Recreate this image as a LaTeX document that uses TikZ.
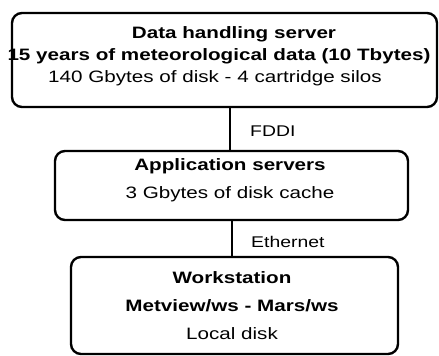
\documentclass[tikz,border=0pt]{standalone}
\usepackage{fontspec}
\setmainfont{Liberation Sans}[FakeStretch=1.25]
\begin{document}
\begin{tikzpicture}[x=1pt,y=-1pt,
  box/.style={draw, line width=2.4pt, rounded corners=10pt},
  link/.style={line width=2.8pt},
  tb/.style={font=\fontsize{16.5}{19}\selectfont\bfseries, inner sep=0pt, anchor=base},
  tn/.style={font=\fontsize{16.5}{19}\selectfont, inner sep=0pt, anchor=base},
  lbl/.style={font=\fontsize{15.5}{18}\selectfont, inner sep=0pt, anchor=base west}]
\useasboundingbox (0,0) rectangle (439,356);
% storage tier
\draw[box] (12,13) rectangle (437,107);
\node[tb] (dhs) at (234,38) {Data handling server};
\node[tb] (hist) at (219,60) {15 years of meteorological data (10 Tbytes)};
\node[tn] (disk) at (215,82) {140 Gbytes of disk - 4 cartridge silos};
% application tier
\draw[box] (55,151) rectangle (408,220);
\node[tb] (apps) at (230,170) {Application servers};
\node[tn] (cache) at (230,198) {3 Gbytes of disk cache};
% workstation tier
\draw[box] (71,257) rectangle (398,354);
\node[tb] (ws) at (232,283) {Workstation};
\node[tb] (mv) at (232,311) {Metview/ws - Mars/ws};
\node[tn] (ld) at (232,339) {Local disk};
% network links
\coordinate (a1) at (230,107);
\coordinate (a2) at (230,151);
\coordinate (b1) at (232,220);
\coordinate (b2) at (232,257);
\draw[link] (a1) -- (a2);
\draw[line width=1.8pt] (b1) -- (b2);
\node[lbl] (fddi) at (250,136) {FDDI};
\node[lbl] (eth) at (251,247) {Ethernet};
\end{tikzpicture}
\end{document}
